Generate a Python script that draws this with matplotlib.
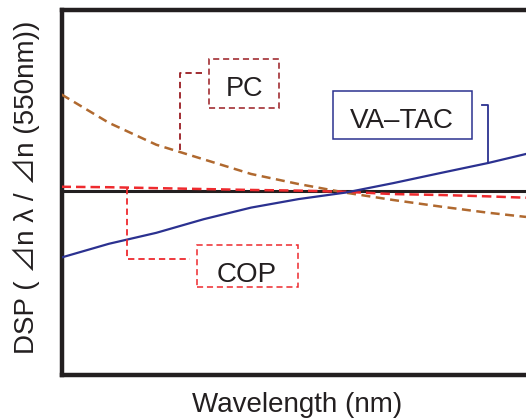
import numpy as np
import matplotlib
matplotlib.use('Agg')
import matplotlib.pyplot as plt
from matplotlib.patches import Rectangle

# ---- data ----
wavelength = [400, 425, 450, 475, 500, 525, 550, 575, 600, 625, 645]
dsp_pc = [1.106, 1.075, 1.051, 1.035, 1.019, 1.008, 0.9985, 0.9905, 0.9833, 0.9766, 0.972]
dsp_vatac = [0.9276, 0.9426, 0.9546, 0.9695, 0.9822, 0.9915, 0.9987, 1.009, 1.0201, 1.031, 1.0409]
dsp_cop = [1.005, 1.0045, 1.0035, 1.0025, 1.0015, 1.0008, 0.9995, 0.997, 0.996, 0.9945, 0.993]
reference_value = 1.0
series_labels = ['PC', 'VA–TAC', 'COP']
x_label = 'Wavelength (nm)'
y_label = 'DSP ( ⊿n λ / ⊿n (550nm))'

W, H = 526, 418
fig = plt.figure(figsize=(W / 100, H / 100), dpi=100)
ax = fig.add_axes([61.5 / W, 43 / H, 464.5 / W, 365.5 / H])
XL = (400, 645)
YL = (0.799, 1.199)
ax.set_xlim(*XL)
ax.set_ylim(*YL)

INK = '#231f20'
C_PC = '#b0692f'
C_PCBOX = '#9a1d22'
C_COP = '#ee2a2e'
C_VA = '#2b3190'

for s in ['left', 'top', 'bottom']:
    ax.spines[s].set_linewidth(3.2)
    ax.spines[s].set_color(INK)
ax.spines['right'].set_visible(False)
ax.set_xticks([])
ax.set_yticks([])

ax.axhline(reference_value, color=INK, lw=2.2, zorder=2)
ax.plot(wavelength, dsp_pc, color=C_PC, lw=1.8, ls=(0, (3.6, 2.2)), zorder=3)
ax.plot(wavelength, dsp_cop, color=C_COP, lw=1.8, ls=(0, (3.8, 2.0)), zorder=3)
ax.plot(wavelength, dsp_vatac, color=C_VA, lw=1.6, zorder=4)

def px2x(px):
    return XL[0] + (px - 61.5) / 464.5 * (XL[1] - XL[0])

def py2y(py):
    return YL[0] + (375 - py) / 365.5 * (YL[1] - YL[0])

font = 'Liberation Sans'

def box(x0, y0, x1, y1, color, ls):
    r = Rectangle((px2x(x0), py2y(y1)), px2x(x1) - px2x(x0), py2y(y0) - py2y(y1),
                  fill=False, edgecolor=color, lw=1.1, ls=ls, clip_on=False, zorder=5)
    ax.add_patch(r)

# PC annotation
box(209, 59, 279, 108, C_PCBOX, (0, (4.0, 2.5)))
ax.text(px2x(244), py2y(96), series_labels[0], ha='center', va='baseline',
        fontsize=19.5, family=font, color=INK)
xa = px2x(180)
ax.plot([px2x(202), xa, xa], [py2y(73), py2y(73), np.interp(xa, wavelength, dsp_pc)],
        color=C_PCBOX, lw=1.3, ls=(0, (3.5, 2.2)), zorder=5, clip_on=False)

# VA-TAC annotation
box(333, 91, 472, 139, C_VA, '-')
ax.text(px2x(402), py2y(128), series_labels[1], ha='center', va='baseline',
        fontsize=20, family=font, color=INK)
xb = px2x(488)
ax.plot([px2x(482), xb, xb], [py2y(105), py2y(105), np.interp(xb, wavelength, dsp_vatac)],
        color=C_VA, lw=1.3, zorder=5, clip_on=False)

# COP annotation
box(197, 245, 298, 287, C_COP, (0, (4.0, 2.5)))
ax.text(px2x(247), py2y(282), series_labels[2], ha='center', va='baseline',
        fontsize=20, family=font, color=INK)
xc = px2x(127)
ax.plot([xc, xc, px2x(190)], [np.interp(xc, wavelength, dsp_cop), py2y(259), py2y(259)],
        color=C_COP, lw=1.3, ls=(0, (3.5, 2.2)), zorder=5, clip_on=False)

fig.text(297.5 / W, 1 - 411.5 / H, x_label, ha='center', va='baseline',
         fontsize=20, family=font, color=INK)
fig.text(26 / W, 1 - 187 / H, y_label, ha='center', va='center', rotation=90,
         fontsize=20, family=[font, 'Noto Sans CJK JP'], color=INK)

fig.savefig('out.png', dpi=100)
